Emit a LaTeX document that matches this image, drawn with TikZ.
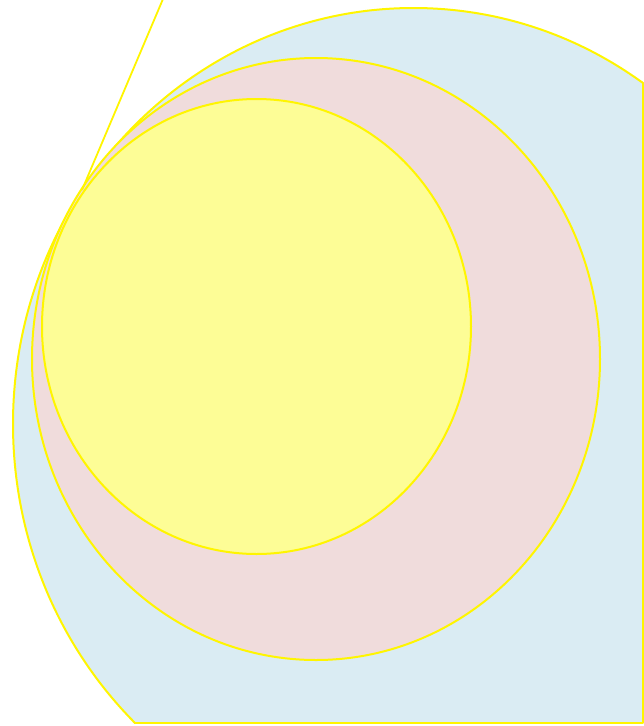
\documentclass[tikz,border=0pt]{standalone}
\usetikzlibrary{calc}
\definecolor{bluefill}{RGB}{218,236,243}
\definecolor{pinkfill}{RGB}{240,220,220}
\definecolor{yellowfill}{RGB}{253,253,150}
\definecolor{edgeyellow}{RGB}{255,245,0}
\begin{document}
\begin{tikzpicture}[x=1pt,y=-1pt,
  edge/.style={draw=edgeyellow,line width=2pt,line join=round}]
\useasboundingbox (0,0) rectangle (644,726);
% blue clipped ellipse
\begin{scope}
  \clip (0,0) rectangle (642.5,723);
  \fill[bluefill] (413.5,424) ellipse [x radius=400.5, y radius=416];
  \draw[edge] (413.5,424) ellipse [x radius=400.5, y radius=416];
\end{scope}
\begin{scope}
  \clip (413.5,424) ellipse [x radius=401.5, y radius=417];
  \draw[edge] (-10,723) -- (642.5,723) -- (642.5,-10);
\end{scope}
% pink
\draw[edge,fill=pinkfill] (316,359) ellipse [x radius=284, y radius=301];
% yellow
\draw[edge,fill=yellowfill] (256.5,326.5) ellipse [x radius=214.5, y radius=227.5];
% tangent line
\coordinate (ltop) at (163,-1);
\coordinate (lbot) at (82,190);
\draw[edge,line width=1.8pt] (ltop) -- (lbot);
\end{tikzpicture}
\end{document}
